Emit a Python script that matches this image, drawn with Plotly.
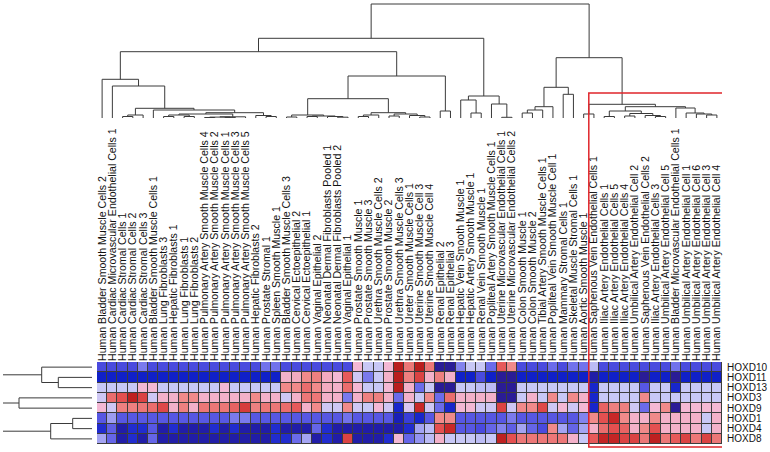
import plotly.graph_objects as go

# ---------------- data ----------------
col_labels = [
    "Human Bladder Smooth Muscle Cells 2",
    "Human Cardiac Microvascular Endothelial Cells 1",
    "Human Cardiac Stromal Cells 1",
    "Human Cardiac Stromal Cells 2",
    "Human Cardiac Stromal Cells 3",
    "Human Bladder Smooth Muscle Cells 1",
    "Human Lung Fibroblasts 3",
    "Human Hepatic Fibroblasts 1",
    "Human Lung Fibroblasts 1",
    "Human Lung Fibroblasts 2",
    "Human Pulmonary Artery Smooth Muscle Cells 4",
    "Human Pulmonary Artery Smooth Muscle Cells 2",
    "Human Pulmonary Artery Smooth Muscle Cells 1",
    "Human Pulmonary Artery Smooth Muscle Cells 3",
    "Human Pulmonary Artery Smooth Muscle Cells 5",
    "Human Hepatic Fibroblasts 2",
    "Human Prostate Stromal 1",
    "Human Spleen Smooth Muscle 1",
    "Human Bladder Smooth Muscle Cells 3",
    "Human Cervical Ectoepithelial 2",
    "Human Cervical Ectoepithelial 1",
    "Human Vaginal Epithelial 2",
    "Human Neonatal Dermal Fibroblasts Pooled 1",
    "Human Neonatal Dermal Fibroblasts Pooled 2",
    "Human Vaginal Epithelial 1",
    "Human Prostate Smooth Muscle 1",
    "Human Prostate Smooth Muscle 3",
    "Human Urethra Smooth Muscle Cells 2",
    "Human Prostate Smooth Muscle 2",
    "Human Urethra Smooth Muscle Cells 3",
    "Human Ureter Smooth Muscle Cells 1",
    "Human Uterine Smooth Muscle Cell 3",
    "Human Uterine Smooth Muscle Cell 4",
    "Human Renal Epithelial 2",
    "Human Renal Epithelial 3",
    "Human Hepatic Vein Smooth Muscle 1",
    "Human Hepatic Artery Smooth Muscle 1",
    "Human Renal Vein Smooth Muscle 1",
    "Human Popliteal Artery Smooth Muscle Cells 1",
    "Human Uterine Microvascular Endothelial Cells 1",
    "Human Uterine Microvascular Endothelial Cells 2",
    "Human Colon Smooth Muscle 1",
    "Human Colon Smooth Muscle 2",
    "Human Tibial Artery Smooth Muscle Cells 1",
    "Human Popliteal Vein Smooth Muscle Cell 1",
    "Human Mammary Stromal Cells 1",
    "Human Skeletal Muscle Stromal Cells 1",
    "Human Aortic Smooth Muscle 1",
    "Human Saphenous Vein Endothelial Cells 1",
    "Human Iliac Artery Endothelial Cells 1",
    "Human Iliac Artery Endothelial Cells 5",
    "Human Iliac Artery Endothelial Cells 4",
    "Human Umbilical Artery Endothelial Cell 2",
    "Human Saphenous Vein Endothelial Cells 2",
    "Human Iliac Artery Endothelial Cells 3",
    "Human Umbilical Artery Endothelial Cell 5",
    "Human Bladder Microvascular Endothelial Cells 1",
    "Human Umbilical Artery Endothelial Cell 1",
    "Human Umbilical Artery Endothelial Cell 6",
    "Human Umbilical Artery Endothelial Cell 3",
    "Human Umbilical Artery Endothelial Cell 4",
]

row_labels = ["HOXD10", "HOXD11", "HOXD13", "HOXD3", "HOXD9", "HOXD1", "HOXD4", "HOXD8"]

hoxd10 = [-2,-2,-2,-2,-1.3, -2,-2,-2,-2,-2, -2,-2,-2,-2,-2, -2,-1.4,-1.4,-2,-2,
          -2,-2,-2,-2,-2, 0.3,-0.5,-0.5,0.3,2.5, 1.2,2.5,1.2,-3,-3, -1.2,-0.5,-0.5,-1.5,1.5,
          1.0,-2,-2,-2,-1.5, -2,-1.4,-1.4,-0.6,-2, -2,-2,-2,-2,-2, -2,-1.4,-2,-2,-2, -2]
hoxd11 = [-2.7]*18 + [0.4,0.5,1.0,1.1,0.5,0.3,1.5,-0.4,-1.3,-0.5,0.4,2.5,1.1,1.8,0.4,1.1,0.4,
          -2.7,-2.7,-2.0,-2.7,-3,-3] + [-2.7]*7 + [-2.9] + [-2.7]*4 + [-3,-2.7,-2.7,-3] + [-2.7]*4
hoxd13 = [-0.5]*4 + [0.3,0.3] + [-0.5]*6 + [0.3] + [-0.5]*5 + \
         [1.0,1.0,1.3,1.0,0.5,0.4,1.3,0.3,-0.5,-0.5,0.3,2.5,0.4,-1.5,-0.5,-3,-3,-0.5,-0.5,-0.6,-0.6,-3,-3] + \
         [-0.5]*7 + [-2.6] + [-0.5]*4 + [-1.8,-0.5,-0.5,-2.6] + [-0.5]*4
hoxd3 = [-0.4,1.3,1.6,2.4,1.8,-0.4,0.4,0.4,1.0,1.0,0.4,0.4,0.4,0.4,0.4,1.0,0.4,0.4,-0.4,0.4,
         1.2,1.2,0.4,0.4,-1.3,0.4,1.1,1.1,0.4,-1.5,0.4,-0.5,1.0,-1.5,1.3,0.4,0.4,0.4,0.4,-3,
         -3,-0.5,0.4,-0.5,1.0,-0.5,1.0,0.4,-2.6] + [-0.5]*4 + [1.0] + [-0.5]*7
hoxd9 = [0.3,-0.4,1.1,1.1,1.2,1.3,1.7,0.4,1.1,0.4,1.2,1.2,1.2,1.4,1.9,1.1,1.2,1.2,1.3,1.5,
         0.4,1.0,-0.4,-0.4,1.0,-0.4,-0.5,0.3,-0.4,-2.6,-0.2,2.2,-0.4,-1.5,-2.6,0.3,0.3,-0.4,-0.4,1.8,
         -0.4,1.0,1.0,1.7,-0.4,0.3,-0.4,0.3,-2.6,1.4,1.1,1.1,-0.4,-1.5,0.3,1.0,-3] + [0.3]*4
hoxd1 = [-1.8,-0.9] + [-1.8]*11 + [-1.3,-1.3] + [-1.8]*9 + [-1.4] + [-1.8]*4 + \
        [-2.8,-2.2,-2.6,-1.8,1.0,1.0] + [-1.8]*5 + [-1.3] + [-1.8]*6 + [-1.2] + \
        [1.0,1.6,2.2,1.0,0.4,0.4,1.0,0.4,0.4,0.4,0.4,-0.5,0.4]
hoxd4 = [-2.5,-1.7,-2.9,-2.5,-2.5,-1.8,-2.9,-2.5,-2.9,-2.9,-2.9,-2.5,-2.9,-2.5,-2.9,-2.9,-2.9,-2.5,-2.9,-2.9,
         -2.9,-1.6,-2.5,-2.9,-2.9,-2.9,-2.9,-2.9,-2.9,-2.9,-2.5,-0.8,-0.6,1.6,2.2,-1.8,-1.8,-2.0,-1.6,-1.2,
         -1.7,-0.8,-1.6,-2.0,1.0,-0.8,-1.6,-0.8,0.4,1.3,1.6,1.4,0.4,1.0,1.6,0.4,0.4,0.4,0.4,-0.5,0.4]
hoxd8 = [-0.8,-1.6,-2.9,-2.5,-2.9,-1.6,-2.9,-2.9,-2.9,-2.9,-2.9,-2.9,-2.9,-2.9,-2.9,-2.9,-2.9,-2.5,-2.5,-1.5,
         -0.8,-2.9,-2.5,-2.9,1.8,-2.9,-2.9,-2.9,-2.5,0.3,-1.6,-1.0,-0.6,0.4,-0.5,-0.5,-0.5,-0.6,-0.5,2.4,
         1.6,1.2,1.2,1.2,1.2,1.2,0.4,-0.5,1.5,2.3,2.3,1.8,1.8,1.2,2.4,1.2,1.5,1.8,1.2,1.8,1.2]

values = [hoxd10, hoxd11, hoxd13, hoxd3, hoxd9, hoxd1, hoxd4, hoxd8]
for r in values:
    assert len(r) == len(col_labels), len(r)

# column dendrogram: (left, right, merge height); ints are column indices
col_tree = (
    (
        (
            (0, (1, (((2, 3, 1.5), 4, 3),
                     (5, ((((6, 7, 1.5), (8, 9, 1.5), 3),
                           (((10, 11, 0.5), (12, 13, 0.6), 0.9), 14, 1.2), 4),
                          (15, (16, 17, 1.5), 2.5), 5.3), 8), 9.7), 32), 38.7),
            ((((18, 19, 1), ((20, 21, 1.5), (22, (23, 24, 0.8), 1.5), 2), 3),
              ((((25, 26, 1.5), 27, 3)), ((28, 29, 2), (30, (31, 32, 1), 2.5), 4), 5.3), 19.3),
             (33, 34, 7), 42),
            66.3),
        ((35, (36, 37, 5), 18), (38, (39, 40, 0.7), 14), 22),
        79.7),
    (
        (((((41, 42, 5), 43, 8)), 44, 11.3), (45, 46, 23.7), 30.7),
        ((47, 48, 4),
         (((49, 50, 1.5), ((51, 52, 2), (53, (54, 55, 1.5), 2.5), 4.5), 7),
          (56, (57, (58, (59, 60, 3), 4), 5), 10), 11.3),
         13.7),
        60.3),
    114)

# row dendrogram (top-level joins lie beyond the visible range)
row_tree = ((((0, (1, 2, 33.7), 50.3), (3, 4, 73), 95)), ((5, 6, 19.3), 7, 41.3), 100)

box_top_height = 25   # height in the column dendrogram where the highlight box starts
box_first_col = "Human Saphenous Vein Endothelial Cells 1"


def dendro_lines(node, xs, ys):
    if isinstance(node, int):
        return float(node), 0.0
    left, right, h = node
    cl, hl = dendro_lines(left, xs, ys)
    cr, hr = dendro_lines(right, xs, ys)
    xs += [cl, cl, cr, cr, None]
    ys += [hl, h, h, hr, None]
    return (cl + cr) / 2.0, h


cx, cy = [], []
dendro_lines(col_tree, cx, cy)
rx, ry = [], []
dendro_lines(row_tree, ry, rx)  # positions on y, heights on x

# ---------------- figure ----------------
W, H = 770, 452
cs = [
    [0.00, "#2a1c96"], [0.05, "#1020c8"], [0.1667, "#4a4ade"], [0.2667, "#7272ec"],
    [0.3667, "#a4a4f2"], [0.4167, "#c8c8f6"], [0.50, "#e6c4ec"], [0.55, "#f4b8d4"],
    [0.6667, "#f08a8a"], [0.7667, "#e45050"], [0.8667, "#c82828"], [1.00, "#a00c0c"],
]

fig = go.Figure()
fig.add_trace(go.Heatmap(
    z=values, x=list(range(len(col_labels))), y=list(range(len(row_labels))),
    colorscale=cs, zmin=-3, zmax=3, showscale=False, xgap=1, ygap=1,
    hoverinfo="skip", xaxis="x", yaxis="y"))
fig.add_trace(go.Scatter(x=cx, y=cy, mode="lines", line=dict(color="#3a3a3a", width=1),
                         xaxis="x2", yaxis="y2", hoverinfo="skip", showlegend=False))
fig.add_trace(go.Scatter(x=rx, y=ry, mode="lines", line=dict(color="#3a3a3a", width=1),
                         xaxis="x3", yaxis="y3", hoverinfo="skip", showlegend=False))

ncol, nrow = len(col_labels), len(row_labels)
hm_x = [97 / W, 722 / W]
hm_y = [(H - 444) / H, (H - 362) / H]
dg_y = [(H - 118) / H, (H - 3) / H]
dg_range = [0, 115]

fig.update_layout(
    width=W, height=H, autosize=False,
    margin=dict(l=0, r=0, t=0, b=0),
    paper_bgcolor="white", plot_bgcolor="white",
    showlegend=False,
    font=dict(family="Liberation Sans, Arial, sans-serif", color="#111"),
    xaxis=dict(domain=hm_x, range=[-0.5, ncol - 0.5], side="top", anchor="y",
               tickmode="array", tickvals=list(range(ncol)), ticktext=col_labels,
               tickangle=-90, tickfont=dict(size=10.6), ticks="",
               showgrid=False, zeroline=False, showline=False),
    yaxis=dict(domain=hm_y, range=[nrow - 0.5, -0.5], side="right", anchor="x",
               tickmode="array", tickvals=list(range(nrow)), ticktext=row_labels,
               tickfont=dict(size=10), ticks="", ticklabelstandoff=4,
               showgrid=False, zeroline=False, showline=False),
    xaxis2=dict(domain=hm_x, range=[-0.5, ncol - 0.5], anchor="y2", visible=False),
    yaxis2=dict(domain=dg_y, range=dg_range, anchor="x2", visible=False),
    xaxis3=dict(domain=[3 / W, 92 / W], range=[89, 0], anchor="y3", visible=False),
    yaxis3=dict(domain=hm_y, range=[nrow - 0.5, -0.5], anchor="x3", visible=False),
)

# dark grid behind the cells
fig.add_shape(type="rect", xref="x", yref="y", x0=-0.5, x1=ncol - 0.5, y0=-0.5, y1=nrow - 0.5,
              fillcolor="#3c3c3c", line=dict(color="#3c3c3c", width=1), layer="below")

# red highlight box
bx0 = col_labels.index(box_first_col) - 0.5
box_top = dg_y[0] + (dg_y[1] - dg_y[0]) * box_top_height / (dg_range[1] - dg_range[0])
fig.add_shape(type="rect", xref="x", yref="paper", x0=bx0, x1=ncol - 0.35,
              y0=5 / H, y1=box_top, line=dict(color="#e0262b", width=1.5),
              fillcolor="rgba(0,0,0,0)", layer="above")

fig.write_html("out.html", config={"displayModeBar": False},
               post_script="document.body.style.margin='0px';")
